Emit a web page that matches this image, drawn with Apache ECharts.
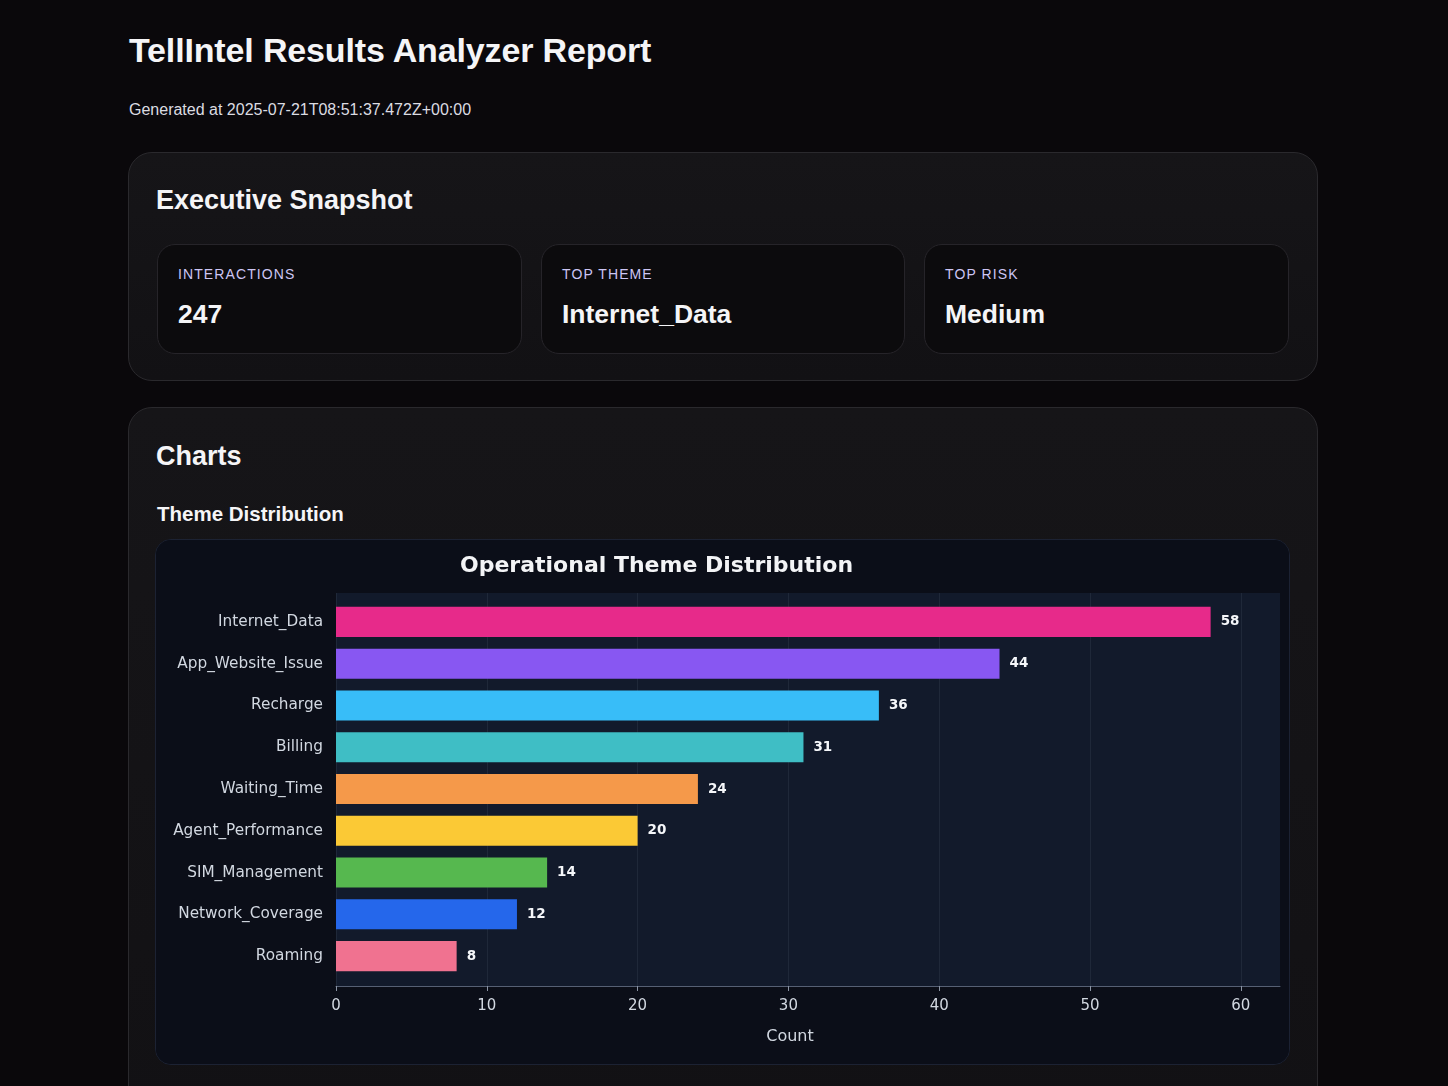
<!DOCTYPE html>
<html>
<head>
<meta charset="utf-8">
<title>TellIntel Results Analyzer Report</title>
<script src="https://cdn.jsdelivr.net/npm/echarts@6/dist/echarts.min.js"></script>
<style>
  html, body { margin: 0; padding: 0; background: #0a080b; }
  body { font-family: "Liberation Sans", Arial, sans-serif; color: #f5f5f7; }
  .wrap { width: 1190px; margin-left: 128px; padding-top: 30px; }
  h1 { margin: 0 0 0 1px; font-size: 34px; line-height: 40px; font-weight: bold; letter-spacing: -0.15px; }
  .gen { margin: 30px 0 0 1px; font-size: 16px; line-height: 20px; color: #dcdce2; }
  .card {
    border: 1px solid #2a292d; border-radius: 24px;
    background: linear-gradient(180deg, #161518 0%, #121114 100%);
    box-sizing: border-box;
  }
  .snap { margin-top: 32px; height: 229px; padding: 31px 27px 0 27px; }
  .card h2 { margin: 0; font-size: 27px; line-height: 32px; font-weight: bold; }
  .stats { display: grid; grid-template-columns: 365px 364px 365px; column-gap: 19px; margin: 28px 0 0 1px; }
  .stat {
    height: 110px; box-sizing: border-box; padding: 21px 20px 0 20px;
    border: 1px solid #262429; border-radius: 18px; background: #0c0b0d;
  }
  .stat .lbl { font-size: 14px; line-height: 16px; letter-spacing: 1.1px; color: #cdc6f4; }
  .stat .val { margin-top: 16px; font-size: 26.5px; line-height: 32px; font-weight: bold; }
  .charts { margin-top: 26px; padding: 32px 26px 60px 27px; }
  .charts h3 { margin: 30px 0 0 1px; font-size: 20.5px; line-height: 24px; font-weight: bold; }
  .panel {
    margin-top: 13px; margin-left: -1px; width: 1135px; height: 526px; box-sizing: border-box;
    border: 1px solid #1c2233; border-radius: 16px; overflow: hidden; background: #0b0e18;
  }
  #chart { width: 1133px; height: 524px; }
</style>
</head>
<body>
<div class="wrap">
  <h1>TellIntel Results Analyzer Report</h1>
  <p class="gen">Generated at 2025-07-21T08:51:37.472Z+00:00</p>

  <div class="card snap">
    <h2>Executive Snapshot</h2>
    <div class="stats">
      <div class="stat"><div class="lbl">INTERACTIONS</div><div class="val">247</div></div>
      <div class="stat"><div class="lbl">TOP THEME</div><div class="val">Internet_Data</div></div>
      <div class="stat"><div class="lbl">TOP RISK</div><div class="val">Medium</div></div>
    </div>
  </div>

  <div class="card charts">
    <h2>Charts</h2>
    <h3>Theme Distribution</h3>
    <div class="panel"><div id="chart"></div></div>
  </div>
</div>

<script>
  // theme counts, top to bottom
  const themes = ['Internet_Data', 'App_Website_Issue', 'Recharge', 'Billing', 'Waiting_Time',
    'Agent_Performance', 'SIM_Management', 'Network_Coverage', 'Roaming'];
  const counts = [58, 44, 36, 31, 24, 20, 14, 12, 8];
  const barColors = ['#e72a8a', '#8857f2', '#38bdf8', '#3fbec5', '#f5994a',
    '#fbc935', '#56b84f', '#2567eb', '#f07290'];
  const xTicks = [0, 10, 20, 30, 40, 50, 60];
  const xMax = 62.6;

  const labelColor = '#d2d8e1';
  const font = 'DejaVu Sans';

  const chart = echarts.init(document.getElementById('chart'));

  chart.setOption({
    backgroundColor: '#0b0e18',
    animation: false,
    title: {
      text: 'Operational Theme Distribution',
      left: 299,
      top: 10,
      textStyle: { color: '#f3f4f6', fontFamily: font, fontWeight: 'bold', fontSize: 22 }
    },
    grid: [
      // plot background + x axis
      { left: 180, right: 9, top: 53, height: 393, show: true, backgroundColor: '#121a2b', borderWidth: 0 },
      // bars
      { left: 180, right: 9, top: 61, height: 376 }
    ],
    xAxis: [
      {
        gridIndex: 0, type: 'value', min: 0, max: xMax,
        axisLine: { show: true, lineStyle: { color: '#566074', width: 1 } },
        axisTick: { show: true, length: 5, customValues: xTicks, lineStyle: { color: '#8a93a3' } },
        axisLabel: { customValues: xTicks, color: labelColor, fontFamily: font, fontSize: 15, margin: 13 },
        splitLine: { show: true, lineStyle: { color: 'rgba(148,163,184,0.10)' } },
        name: 'Count',
        nameLocation: 'middle',
        nameGap: 43,
        nameTextStyle: { color: labelColor, fontFamily: font, fontSize: 16, padding: [0, 36, 0, 0] }
      },
      { gridIndex: 1, type: 'value', min: 0, max: xMax, show: false }
    ],
    yAxis: [
      { gridIndex: 0, type: 'value', show: false },
      {
        gridIndex: 1, type: 'category', data: themes, inverse: true,
        axisLine: { show: false }, axisTick: { show: false },
        axisLabel: { color: labelColor, fontFamily: font, fontSize: 15.3, margin: 13 }
      }
    ],
    series: [{
      type: 'bar',
      xAxisIndex: 1,
      yAxisIndex: 1,
      barWidth: '72%',
      data: counts.map((v, i) => ({ value: v, itemStyle: { color: barColors[i] } })),
      label: {
        show: true, position: 'right', distance: 10,
        color: '#f5f7fa', fontFamily: font, fontWeight: 'bold', fontSize: 13.5
      }
    }]
  });
</script>
</body>
</html>
